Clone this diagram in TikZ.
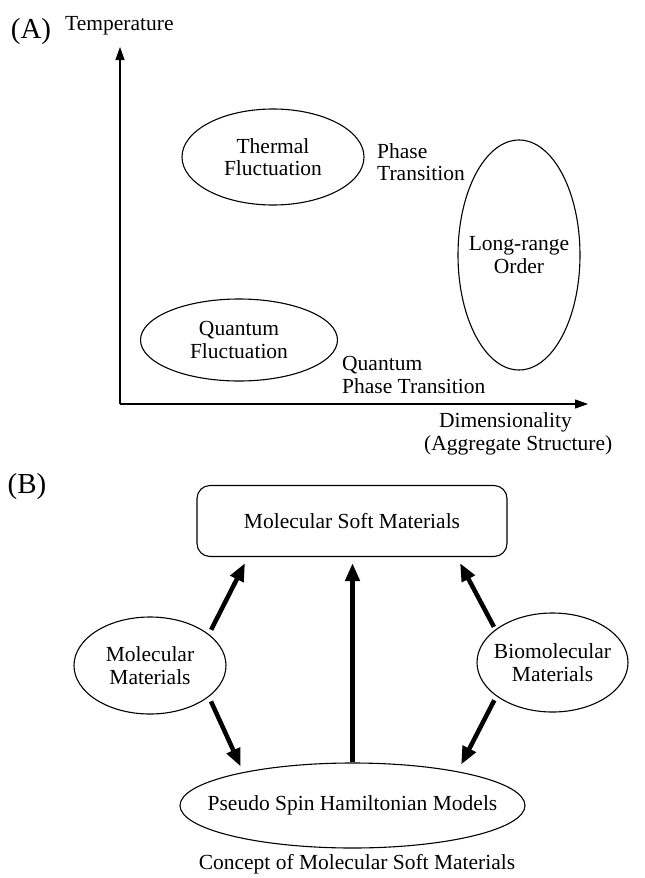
\documentclass[tikz,border=0pt]{standalone}
\usepackage{fontspec}
\setmainfont{Liberation Serif}
\usetikzlibrary{shapes.geometric,arrows.meta,calc}
\begin{document}
\begin{tikzpicture}[x=1pt,y=-1pt,
  every node/.style={font=\fontsize{21.5}{22.5}\selectfont, inner sep=0pt},
  oval/.style={draw, ellipse, line width=1.1pt},
  inside/.style={label={[align=center]center:{#1}}},
  axis/.style={line width=1.1pt, -{Triangle[length=13pt,width=9pt]}},
  fat/.style={line width=4.5pt, -{Triangle[length=18pt,width=14pt]}},
  lbl/.style={align=left, anchor=west},
  tag/.style={font=\fontsize{29}{30}\selectfont},
]
\useasboundingbox (0,0) rectangle (645,878);

% ---------- (A) phase diagram ----------
\node[tag] (tagA) at (31,32) {(A)};
\node[anchor=west] (temp) at (65,26) {Temperature};
\coordinate (origin) at (120,404);
\coordinate (ytip) at (120,47);
\coordinate (xtip) at (588,404);
\draw[axis] (origin) -- (ytip);
\draw[axis] (origin) -- (xtip);

\node[oval, minimum width=182pt, minimum height=96pt, inside={Thermal\\Fluctuation}] (thermal) at (273,157) {};
\node[lbl] (pt) at (377,162) {Phase\\Transition};
\node[oval, minimum width=122pt, minimum height=230pt, inside={Long-range\\Order}] (lro) at (519,255) {};
\node[oval, minimum width=197pt, minimum height=82pt, inside={Quantum\\Fluctuation}] (qf) at (239,340) {};
\node[lbl] (qpt) at (342,375) {Quantum\\Phase Transition};
\node[lbl] (dim) at (424,434) {\hspace*{15pt}Dimensionality\\(Aggregate Structure)};

% ---------- (B) concept scheme ----------
\node[tag] (tagB) at (27,487) {(B)};
\node[draw, rounded corners=13pt, line width=1.1pt, minimum width=310pt, minimum height=71pt] (msm) at (352,521) {Molecular Soft Materials};
\node[oval, minimum width=152pt, minimum height=97pt, inside={Molecular\\Materials}] (mol) at (150,665.5) {};
\node[oval, minimum width=151pt, minimum height=99pt, inside={Biomolecular\\Materials}] (bio) at (552.5,662.5) {};
\node[oval, minimum width=345pt, minimum height=85pt, inside={Pseudo Spin Hamiltonian Models}] (psh) at (352.5,805.5) {};
\node (cap) at (357,864) {Concept of Molecular Soft Materials};

\draw[fat, shorten <=5pt] (mol.28) -- ([xshift=-107pt,yshift=-6pt]msm.south);
\draw[fat, shorten <=5pt, shorten >=6pt] (mol.332) -- (psh.163);
\draw[fat, shorten <=3pt] (bio.150) -- ([xshift=108pt,yshift=-6pt]msm.south);
\draw[fat, shorten <=4.5pt, shorten >=7.5pt] (bio.211) -- (psh.18);
\draw[fat, shorten >=6pt] (psh.north) -- (psh.north |- msm.south);
\end{tikzpicture}
\end{document}
